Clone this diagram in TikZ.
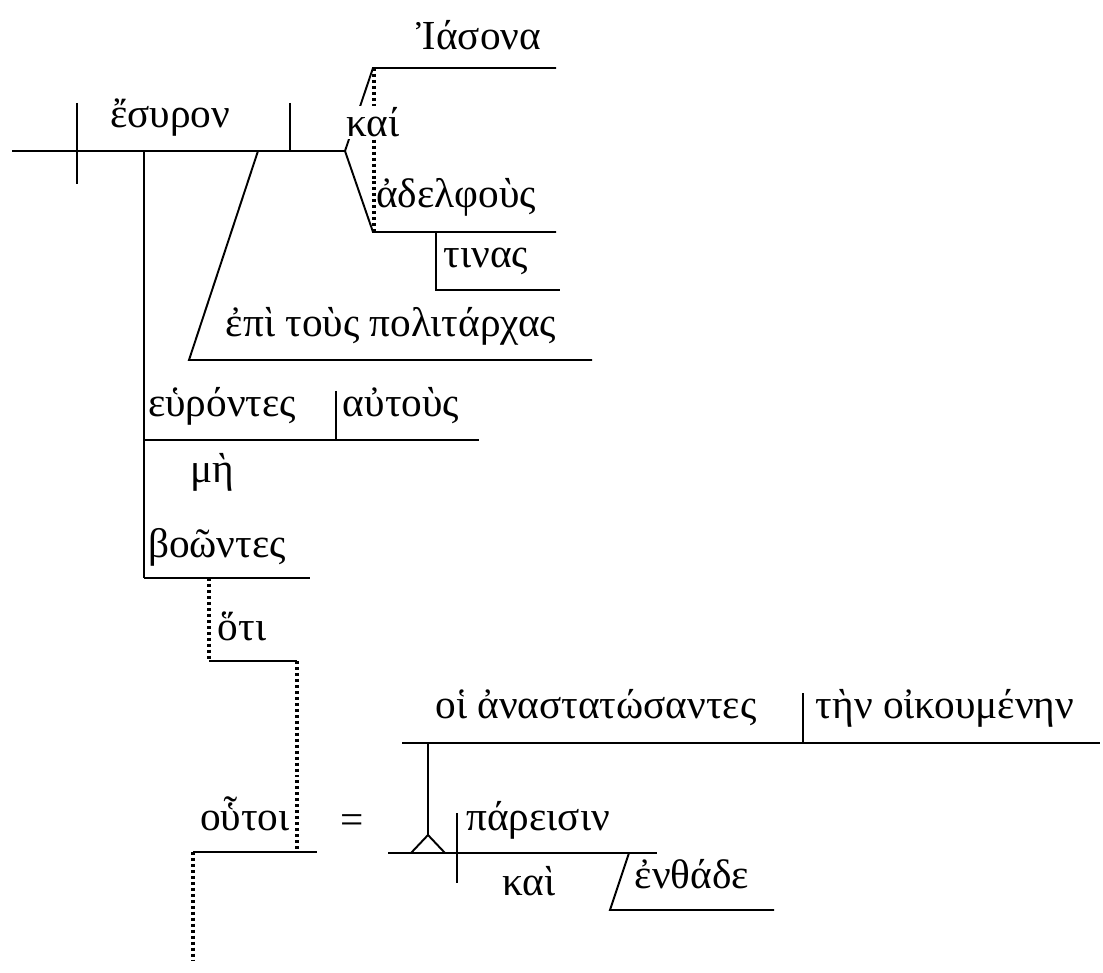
\documentclass[tikz,border=0pt]{standalone}
\usepackage{fontspec}
\setmainfont{Liberation Serif}
\begin{document}
\begin{tikzpicture}[x=0.02cm,y=-0.02cm,line width=1.1pt,
	word/.style={anchor=base,inner sep=1pt,font=\fontsize{23.5}{28}\selectfont},
	dotline/.style={line width=1.8pt,dash pattern=on 1.7pt off 1.7pt}]
	\useasboundingbox (0,0) rectangle (1103,973);
	% main clause
	\draw (12,151) -- (345,151);
	\draw (77,103) -- (77,184);
	\draw (290,103) -- (290,151);
	\node[word] (esuron) at (170,128) {ἔσυρον};
	% compound object
	\draw (345,151) -- (373,68) -- (556,68);
	\draw (345,151) -- (373,232) -- (556,232);
	\draw[dotline] (374,68) -- (374,232);
	\node[word,fill=white] (kai) at (373,137) {καί};
	\node[word] (iasona) at (479,50) {Ἰάσονα};
	\node[word] (adelfous) at (456,208) {ἀδελφοὺς};
	\draw (436,232) -- (436,290) -- (560,290);
	\node[word] (tinas) at (486,268) {τινας};
	% prepositional phrase
	\draw (258,151) -- (189,360) -- (592,360);
	\node[word] (epi) at (391,337) {ἐπὶ τοὺς πολιτάρχας};
	% participles
	\draw (144,151) -- (144,578);
	\draw (144,440) -- (479,440);
	\draw (336,391) -- (336,440);
	\node[word] (eurontes) at (222,417) {εὑρόντες};
	\node[word] (autous) at (401,417) {αὐτοὺς};
	\node[word] (me) at (212,482) {μὴ};
	\node[word] (boontes) at (217,557) {βοῶντες};
	\draw (144,578) -- (310,578);
	% hoti clause
	\draw[dotline] (209,578) -- (209,661);
	\draw (209,661) -- (297,661);
	\draw[dotline] (297,661) -- (297,851);
	\node[word] (hoti) at (242,640) {ὅτι};
	\node[word] (houtoi) at (245,830) {οὗτοι};
	\draw (193,852) -- (317,852);
	\draw[dotline] (193,852) -- (193,960);
	\node[word,anchor=center] (equals) at (352,824) {=};
	% predicate
	\draw (402,743) -- (1100,743);
	\draw (803,693) -- (803,743);
	\node[word] (anastatosantes) at (596,718) {οἱ ἀναστατώσαντες};
	\node[word] (oikoumenen) at (945,718) {τὴν οἰκουμένην};
	\draw (428,743) -- (428,835);
	\draw (411,853) -- (428,835) -- (445,853);
	\draw (388,853) -- (657,853);
	\draw (457,813) -- (457,883);
	\node[word] (pareisin) at (538,830) {πάρεισιν};
	\node[word] (kai2) at (529,895) {καὶ};
	\draw (629,853) -- (610,910) -- (774,910);
	\node[word] (enthade) at (692,888) {ἐνθάδε};
\end{tikzpicture}
\end{document}
